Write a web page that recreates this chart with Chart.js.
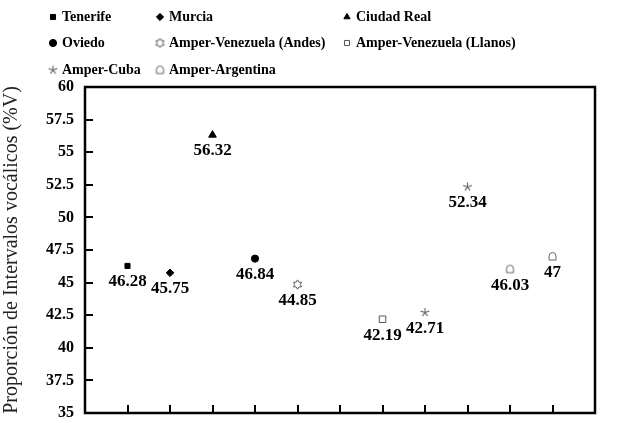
<!DOCTYPE html>
<html>
<head>
<meta charset="utf-8">
<script src="https://cdn.jsdelivr.net/npm/chart.js@4.4.1/dist/chart.umd.min.js"></script>
<style>
  html, body { margin: 0; padding: 0; background: #fff; }
  #wrap { width: 624px; height: 423px; }
</style>
</head>
<body>
<div id="wrap"><canvas id="chart"></canvas></div>
<script>
// one entry per x slot (slot 6 is empty)
const slotSeries = ['Tenerife', 'Murcia', 'Ciudad Real', 'Oviedo', 'Amper-Venezuela (Andes)', null,
  'Amper-Venezuela (Llanos)', 'Amper-Cuba', 'Amper-Cuba', 'Amper-Argentina', 'Amper-Argentina'];
const slotValues = [46.28, 45.75, 56.32, 46.84, 44.85, null, 42.19, 42.71, 52.34, 46.03, 47];

const seriesNames = ['Tenerife', 'Murcia', 'Ciudad Real', 'Oviedo', 'Amper-Venezuela (Andes)',
  'Amper-Venezuela (Llanos)', 'Amper-Cuba', 'Amper-Argentina'];
const yTicks = [35, 37.5, 40, 42.5, 45, 47.5, 50, 52.5, 55, 57.5, 60];
const yTitle = 'Proporción de Intervalos vocálicos (%V)';

const SERIF = "'Liberation Serif', 'Times New Roman', serif";

function makeIcon(size, draw) {
  const c = document.createElement('canvas');
  c.width = size; c.height = size;
  const g = c.getContext('2d');
  draw(g, size / 2);
  return c;
}

const hexagram = makeIcon(11, (g, m) => {
  g.strokeStyle = '#555';
  g.lineWidth = 1;
  g.beginPath();
  const pts = [];
  for (let i = 0; i < 12; i++) {
    const r = i % 2 === 0 ? 4.6 : 2.8;
    const a = -Math.PI / 2 + i * Math.PI / 6;
    pts.push([m + r * Math.cos(a), m + r * Math.sin(a)]);
  }
  pts.forEach((p, i) => i ? g.lineTo(p[0], p[1]) : g.moveTo(p[0], p[1]));
  g.closePath();
  g.stroke();
});

const asterisk = makeIcon(11, (g, m) => {
  g.strokeStyle = '#666';
  g.lineWidth = 1.1;
  g.beginPath();
  for (let i = 0; i < 5; i++) {
    const a = -Math.PI / 2 + i * 2 * Math.PI / 5;
    g.moveTo(m, m);
    g.lineTo(m + 4.5 * Math.cos(a), m + 4.5 * Math.sin(a));
  }
  g.stroke();
});

const house = makeIcon(11, (g, m) => {
  g.strokeStyle = '#666';
  g.lineWidth = 1;
  g.beginPath();
  g.moveTo(m - 3.5, m + 3.5);
  g.lineTo(m - 3.5, m - 0.5);
  g.quadraticCurveTo(m - 3.5, m - 4, m, m - 4);
  g.quadraticCurveTo(m + 3.5, m - 4, m + 3.5, m - 0.5);
  g.lineTo(m + 3.5, m + 3.5);
  g.closePath();
  g.stroke();
});

const styles = {
  'Tenerife': { pointStyle: 'rect', radius: 3.6, bg: '#000', border: '#000' },
  'Murcia': { pointStyle: 'rectRot', radius: 3.8, bg: '#000', border: '#000' },
  'Ciudad Real': { pointStyle: 'triangle', radius: 4.4, bg: '#000', border: '#000' },
  'Oviedo': { pointStyle: 'circle', radius: 3.6, bg: '#000', border: '#000' },
  'Amper-Venezuela (Andes)': { pointStyle: hexagram, radius: 5 },
  'Amper-Venezuela (Llanos)': { pointStyle: 'rect', radius: 4.6, bg: '#fff', border: '#555' },
  'Amper-Cuba': { pointStyle: asterisk, radius: 5 },
  'Amper-Argentina': { pointStyle: house, radius: 5 },
};

const datasets = seriesNames.map(name => {
  const s = styles[name];
  const data = [];
  slotSeries.forEach((n, i) => { if (n === name) data.push({ x: i + 1, y: slotValues[i] }); });
  return {
    label: name,
    data,
    pointStyle: s.pointStyle,
    pointRadius: s.radius,
    pointHoverRadius: s.radius,
    backgroundColor: s.bg || '#fff',
    borderColor: s.border || '#555',
    borderWidth: 1,
    showLine: false,
  };
});

// value labels under each point
const valueLabels = {
  id: 'valueLabels',
  afterDatasetsDraw(chart) {
    const ctx = chart.ctx;
    ctx.save();
    ctx.font = 'bold 17px ' + SERIF;
    ctx.fillStyle = '#000';
    ctx.textAlign = 'center';
    ctx.textBaseline = 'middle';
    chart.data.datasets.forEach((ds, di) => {
      chart.getDatasetMeta(di).data.forEach((pt, j) => {
        ctx.fillText(String(ds.data[j].y), pt.x, pt.y + 16);
      });
    });
    ctx.restore();
  }
};

// box frame + inward tick marks
const frame = {
  id: 'frame',
  afterDraw(chart) {
    const { ctx, chartArea: a, scales } = chart;
    ctx.save();
    ctx.strokeStyle = '#000';
    ctx.lineWidth = 2.5;
    ctx.strokeRect(a.left, a.top, a.right - a.left, a.bottom - a.top);
    ctx.lineWidth = 2;
    ctx.beginPath();
    yTicks.forEach(v => {
      const y = Math.round(scales.y.getPixelForValue(v));
      ctx.moveTo(a.left, y); ctx.lineTo(a.left + 8, y);
    });
    for (let i = 1; i <= slotSeries.length; i++) {
      const x = Math.round(scales.x.getPixelForValue(i));
      ctx.moveTo(x, a.bottom); ctx.lineTo(x, a.bottom - 8);
    }
    ctx.stroke();
    ctx.restore();
  }
};

// legend laid out in three columns like the original
const legendCols = [53, 160, 347];
const legendRows = [17, 43, 70];
const gridLegend = {
  id: 'gridLegend',
  afterDraw(chart) {
    const ctx = chart.ctx;
    ctx.save();
    ctx.font = 'bold 14px ' + SERIF;
    ctx.textBaseline = 'middle';
    ctx.fillStyle = '#000';
    chart.data.datasets.forEach((ds, i) => {
      const x = legendCols[i % 3];
      const y = legendRows[Math.floor(i / 3)];
      const st = ds.pointStyle;
      if (typeof st === 'string') {
        ctx.fillStyle = ds.backgroundColor;
        ctx.strokeStyle = ds.borderColor;
        ctx.lineWidth = 1;
        Chart.helpers.drawPoint(ctx, { pointStyle: st, radius: Math.min(ds.pointRadius, 3.6), rotation: 0, borderWidth: 1 }, x, y);
      } else {
        ctx.drawImage(st, x - st.width / 2, y - st.height / 2);
      }
      ctx.fillStyle = '#000';
      ctx.fillText(ds.label, x + 9, y);
    });
    ctx.restore();
  }
};

new Chart(document.getElementById('chart'), {
  type: 'scatter',
  data: { datasets },
  plugins: [valueLabels, frame, gridLegend],
  options: {
    responsive: true,
    maintainAspectRatio: false,
    animation: false,
    layout: { autoPadding: false, padding: { top: 87, right: 29, left: 0, bottom: 0 } },
    plugins: {
      legend: { display: false },
      tooltip: { enabled: false },
    },
    scales: {
      x: {
        type: 'linear',
        min: 0,
        max: 12,
        grid: { display: false },
        border: { display: false },
        ticks: { display: false },
        afterFit: s => {
          s.height = 10;
          s.paddingLeft = 0; s.paddingRight = 0; s.paddingTop = 0; s.paddingBottom = 0;
        },
      },
      y: {
        min: 35,
        max: 60,
        afterBuildTicks: s => { s.ticks = yTicks.map(v => ({ value: v })); },
        grid: { display: false, drawTicks: false },
        border: { display: false },
        ticks: {
          color: '#000',
          padding: 11,
          font: { family: SERIF, size: 16, weight: 'bold' },
        },
        title: {
          display: true,
          text: yTitle,
          color: '#222',
          padding: { top: 0, bottom: 0 },
          font: { family: SERIF, size: 20, weight: 'normal' },
        },
        afterFit: s => {
          s.width = 85;
          s.paddingTop = 0; s.paddingBottom = 0; s.paddingLeft = 0; s.paddingRight = 0;
        },
      },
    },
  },
});
</script>
</body>
</html>
